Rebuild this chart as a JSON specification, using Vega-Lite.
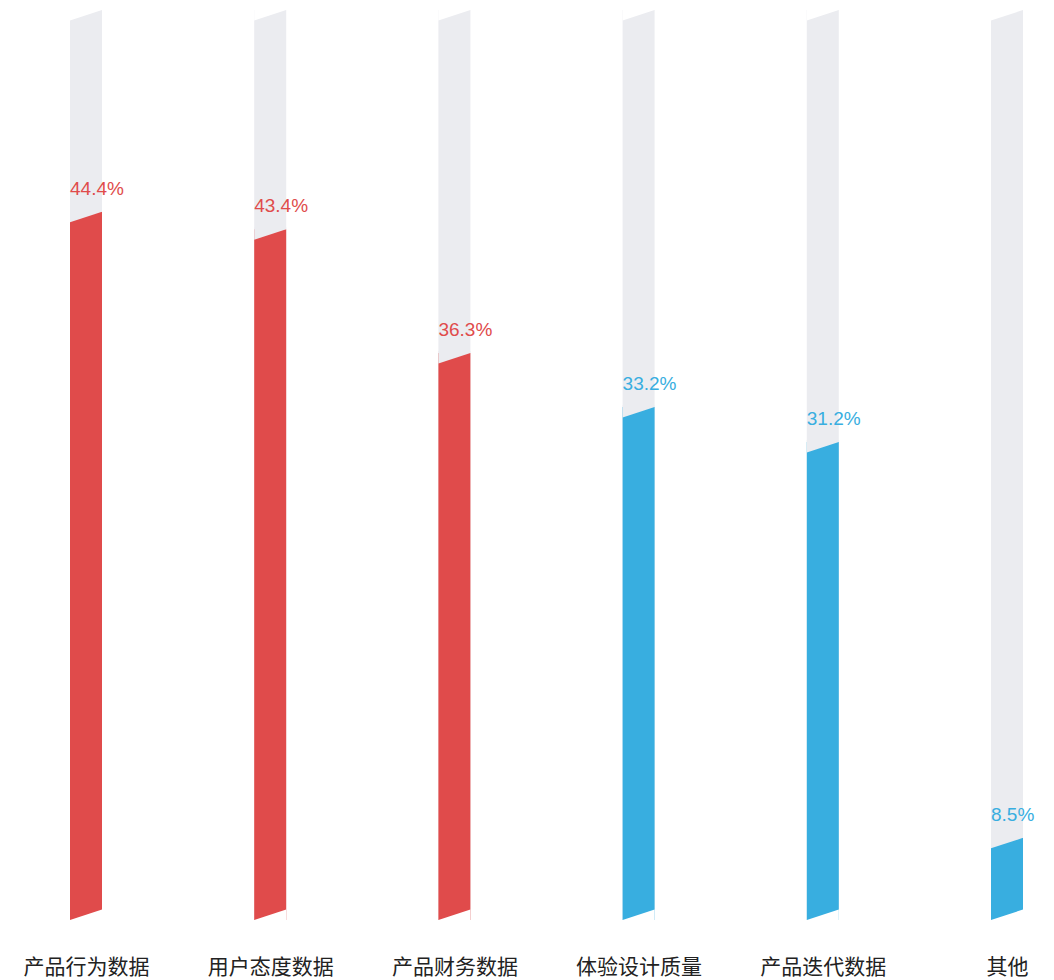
{
  "$schema": "https://vega.github.io/schema/vega-lite/v6.json",
  "width": 1054,
  "height": 910,
  "autosize": "none",
  "padding": {"left": 0, "top": 10, "right": 0, "bottom": 60},
  "background": "#ffffff",
  "view": {"stroke": null},
  "data": {
    "values": [
      {"name": "产品行为数据", "value": 44.4, "label": "44.4%", "group": "高"},
      {"name": "用户态度数据", "value": 43.4, "label": "43.4%", "group": "高"},
      {"name": "产品财务数据", "value": 36.3, "label": "36.3%", "group": "高"},
      {"name": "体验设计质量", "value": 33.2, "label": "33.2%", "group": "低"},
      {"name": "产品迭代数据", "value": 31.2, "label": "31.2%", "group": "低"},
      {"name": "其他", "value": 8.5, "label": "8.5%", "group": "低"}
    ]
  },
  "encoding": {
    "x": {
      "field": "name",
      "type": "nominal",
      "sort": null,
      "scale": {"type": "point", "range": [86, 1007], "padding": 0},
      "axis": {
        "title": null,
        "domain": false,
        "ticks": false,
        "grid": false,
        "labelAngle": 0,
        "labelFont": "Noto Sans CJK SC",
        "labelFontSize": 21,
        "labelColor": "#222222",
        "labelPadding": 36
      }
    }
  },
  "layer": [
    {
      "mark": {"type": "bar", "width": 32, "color": "#EBECF0"},
      "encoding": {
        "y": {"datum": 56.27, "type": "quantitative", "scale": {"domain": [4.09, 56.27], "zero": false, "nice": false}, "axis": null},
        "y2": {"datum": 4.09}
      }
    },
    {
      "mark": {"type": "point", "shape": "M-1,-0.2L1,-0.2L1,0L-1,0.656Z", "size": 1024, "filled": true, "opacity": 1, "color": "#ffffff", "strokeWidth": 0},
      "encoding": {
        "y": {"datum": 56.27, "type": "quantitative"}
      }
    },
    {
      "mark": {"type": "bar", "width": 32, "yOffset": -5.25},
      "encoding": {
        "y": {"field": "value", "type": "quantitative"},
        "y2": {"datum": 4.09},
        "color": {
          "field": "group",
          "type": "nominal",
          "scale": {"domain": ["高", "低"], "range": ["#E04B4B", "#38AEE0"]},
          "legend": null
        }
      }
    },
    {
      "mark": {"type": "point", "shape": "M-1,-0.45L1,-0.45L1,-0.328L-1,0.328Z", "size": 1024, "filled": true, "opacity": 1, "color": "#EBECF0", "strokeWidth": 0},
      "encoding": {
        "y": {"field": "value", "type": "quantitative"}
      }
    },
    {
      "mark": {"type": "point", "shape": "M1,-0.656L1,0.2L-1,0.2L-1,0Z", "size": 1024, "filled": true, "opacity": 1, "color": "#ffffff", "strokeWidth": 0},
      "encoding": {
        "y": {"datum": 4.09, "type": "quantitative"}
      }
    },
    {
      "mark": {"type": "text", "align": "left", "baseline": "alphabetic", "dx": -16, "dy": -22.5, "font": "Liberation Sans", "fontSize": 19},
      "encoding": {
        "y": {"field": "value", "type": "quantitative"},
        "text": {"field": "label"},
        "color": {
          "field": "group",
          "type": "nominal",
          "scale": {"domain": ["高", "低"], "range": ["#E04B4B", "#38AEE0"]},
          "legend": null
        }
      }
    }
  ]
}
